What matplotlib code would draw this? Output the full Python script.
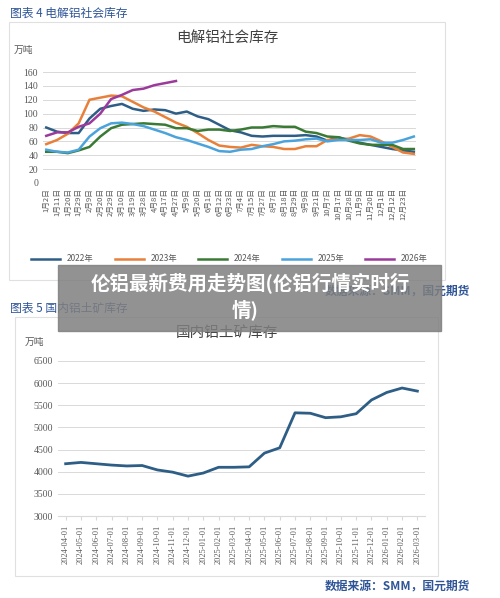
import matplotlib
matplotlib.use("Agg")
import matplotlib.pyplot as plt
from matplotlib.patches import Rectangle

plt.rcParams['font.family'] = ['Liberation Serif', 'Noto Sans CJK SC']
CJK = ['Noto Sans CJK SC', 'DejaVu Sans']

# --- data: 电解铝社会库存 (万吨) ---
date_labels = ["1月2日", "1月11日", "1月20日", "1月29日", "2月9日", "2月20日", "2月29日",
               "3月10日", "3月19日", "3月28日", "4月8日", "4月17日", "4月27日", "5月9日",
               "5月20日", "6月1日", "6月12日", "6月23日", "7月4日", "7月15日", "7月27日",
               "8月7日", "8月18日", "8月29日", "9月9日", "9月21日", "10月7日", "10月17日",
               "10月28日", "11月9日", "11月20日", "12月1日", "12月12日", "12月23日"]
s2022 = [80, 74, 72, 72, 93, 107, 111, 114, 107, 104, 106, 105, 100, 103, 96, 92, 84, 76,
         73, 68, 67, 68, 68, 68, 69, 67, 61, 66, 62, 58, 55, 52, 49, 47, 45]
s2023 = [56, 62, 71, 86, 120, 123, 126, 125, 117, 109, 103, 95, 87, 81, 72, 62, 54, 52,
         51, 55, 53, 52, 49, 49, 53, 53, 62, 63, 64, 69, 67, 60, 52, 44, 42]
s2024 = [45, 45, 43, 47, 52, 67, 79, 84, 85, 86, 85, 84, 79, 79, 75, 77, 77, 75, 77, 80,
         80, 82, 81, 81, 74, 72, 67, 66, 61, 57, 55, 55, 55, 49, 49]
s2025 = [48, 45, 44, 48, 67, 79, 86, 87, 85, 82, 77, 72, 66, 62, 57, 52, 46, 45, 48, 49,
         53, 56, 60, 61, 63, 64, 60, 62, 62, 62, 63, 58, 58, 62, 67]
s2026 = [68, 73, 73, 81, 86, 100, 121, 127, 134, 136, 141, 144, 147]
year_names = ["2022年", "2023年", "2024年", "2025年", "2026年"]
year_colors = ["#2E5E86", "#E8803A", "#3A7A35", "#4BA3DB", "#9B3A9B"]

# --- data: 国内铝土矿库存 (万吨) ---
months = ["2024-04-01", "2024-05-01", "2024-06-01", "2024-07-01", "2024-08-01", "2024-09-01",
          "2024-10-01", "2024-11-01", "2024-12-01", "2025-01-01", "2025-02-01", "2025-03-01",
          "2025-04-01", "2025-05-01", "2025-06-01", "2025-07-01", "2025-08-01", "2025-09-01",
          "2025-10-01", "2025-11-01", "2025-12-01", "2026-01-01", "2026-02-01", "2026-03-01"]
bauxite = [4180, 4210, 4180, 4150, 4130, 4140, 4040, 3990, 3900, 3970, 4100, 4100,
           4110, 4420, 4540, 5330, 5320, 5220, 5240, 5310, 5620, 5790, 5890, 5820]

W, H = 500, 598
fig = plt.figure(figsize=(5, 5.98), dpi=100)
blue = "#2F5597"
grey = "#595959"

def box(x0, y0, x1, y1):
    fig.patches.append(Rectangle((x0 / W, 1 - y1 / H), (x1 - x0) / W, (y1 - y0) / H,
                                 transform=fig.transFigure, fill=False, ec="#E0E0E0", lw=0.8))

# ---- top chart ----
fig.text(10 / W, 1 - 13 / H, "图表 4 电解铝社会库存", family=CJK, color=blue, fontsize=8.5, va="center")
box(9, 22, 445, 280)
fig.text(227 / W, 1 - 38 / H, "电解铝社会库存", family=CJK, color="#404040", fontsize=10.5, ha="center", va="center")
fig.text(14 / W, 1 - 50 / H, "万吨", family=CJK, color=grey, fontsize=7, va="center")
ax1 = fig.add_axes([43 / W, 1 - 183 / H, 373 / W, 111 / H])
for vals, name, col in zip([s2022, s2023, s2024, s2025, s2026], year_names, year_colors):
    ax1.plot(range(len(vals)), vals, color=col, lw=1.8, label=name)
ax1.set_xlim(-0.3, 34.2)
ax1.set_ylim(0, 160)
ax1.set_yticks(range(0, 161, 20))
ax1.set_xticks(range(len(date_labels)))
ax1.set_xticklabels(date_labels, rotation=90, family=CJK, fontsize=5.5, color=grey)
ax1.tick_params(axis="y", labelsize=7, labelcolor=grey, length=0)
ax1.tick_params(axis="x", length=0)
ax1.grid(axis="y", color="#D9D9D9", lw=0.7)
for sp in ax1.spines.values():
    sp.set_visible(False)
ax1.legend(loc="center", bbox_to_anchor=(0.5, (1 - 259 / H - (1 - 183 / H)) / (111 / H)),
           ncol=5, frameon=False, prop={'family': CJK, 'size': 6}, handlelength=3.5,
           columnspacing=2.5, labelcolor=grey)

# ---- bottom chart ----
fig.text(10 / W, 1 - 308 / H, "图表 5 国内铝土矿库存", family=CJK, color=blue, fontsize=8.5, va="center")
box(15, 317, 438, 576)
fig.text(227 / W, 1 - 333 / H, "国内铝土矿库存", family=CJK, color="#404040", fontsize=10.5, ha="center", va="center")
fig.text(25 / W, 1 - 342 / H, "万吨", family=CJK, color=grey, fontsize=7, va="center")
ax2 = fig.add_axes([58 / W, 1 - 516 / H, 367 / W, 155 / H])
ax2.plot(range(len(bauxite)), bauxite, color="#2E5E86", lw=2)
ax2.set_xlim(-0.5, 23.5)
ax2.set_ylim(3000, 6500)
ax2.set_yticks(range(3000, 6501, 500))
ax2.set_xticks(range(len(months)))
ax2.set_xticklabels(months, rotation=90, fontsize=6, color=grey)
ax2.tick_params(axis="y", labelsize=7, labelcolor=grey, length=0)
ax2.tick_params(axis="x", length=3, color="#D9D9D9")
ax2.grid(axis="y", color="#D9D9D9", lw=0.7)
for sp in ["top", "right", "left"]:
    ax2.spines[sp].set_visible(False)
ax2.spines["bottom"].set_color("#D9D9D9")

fig.text(470 / W, 1 - 292 / H, "数据来源：SMM，国元期货", family=CJK, color=blue, fontsize=8.5, ha="right", va="center", weight="bold")
fig.text(470 / W, 1 - 587 / H, "数据来源：SMM，国元期货", family=CJK, color=blue, fontsize=8.5, ha="right", va="center", weight="bold")

# ---- overlay banner ----
fig.patches.append(Rectangle((58 / W, 1 - 331 / H), 383 / W, 66 / H, transform=fig.transFigure,
                             color="#7F7F7F", alpha=0.85, zorder=10))
fig.text(250 / W, 1 - 283 / H, "伦铝最新费用走势图(伦铝行情实时行", family=CJK, color="white",
         fontsize=14, weight="bold", ha="center", va="center", zorder=11)
fig.text(245 / W, 1 - 310 / H, "情)", family=CJK, color="white",
         fontsize=14, weight="bold", ha="center", va="center", zorder=11)

fig.savefig("out.png", dpi=100)
